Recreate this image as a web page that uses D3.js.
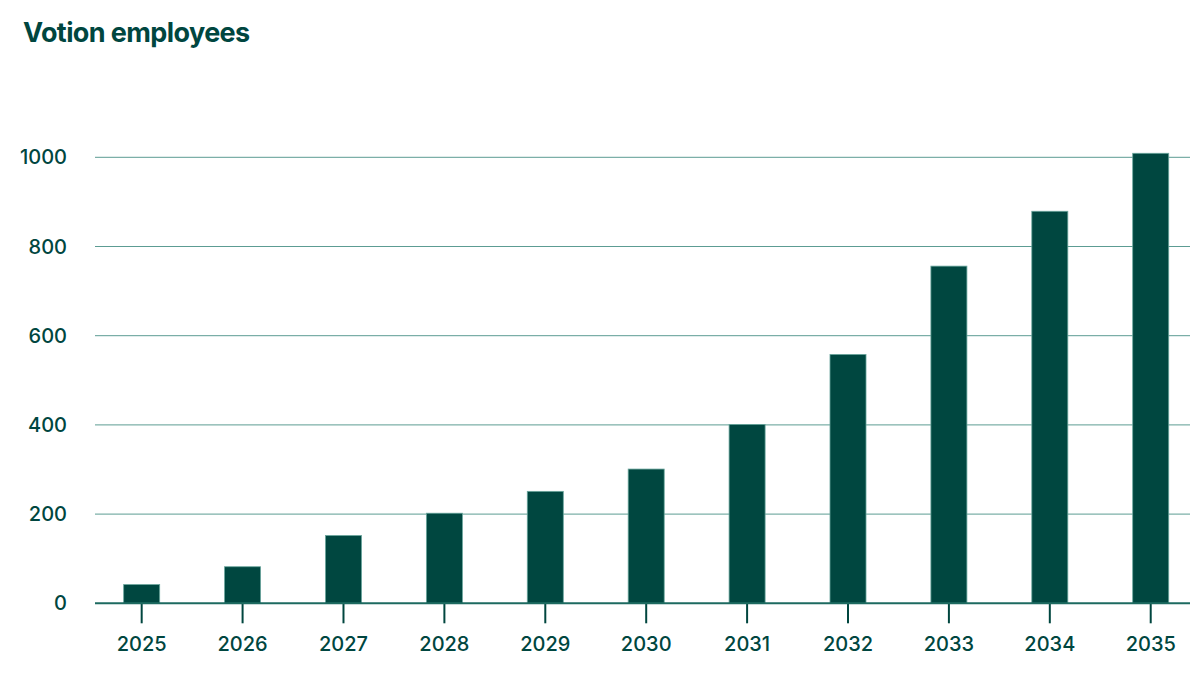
<!DOCTYPE html>
<html>
<head>
<meta charset="utf-8">
<script src="https://cdn.jsdelivr.net/npm/d3@7"></script>
<style>
  html, body { margin: 0; padding: 0; background: #ffffff; }
  svg { display: block; }
</style>
</head>
<body>
<svg id="chart" width="1200" height="697"></svg>
<script>
const title = "Votion employees";
const years = ["2025","2026","2027","2028","2029","2030","2031","2032","2033","2034","2035"];
const employees = [42, 82, 152, 202, 251, 301, 401, 558, 756, 879, 1009];
const yTicks = [0, 200, 400, 600, 800, 1000];

(function () {
const dark = "#00463f";
const gridColor = "#5c9c93";
const font = "Inter, 'Open Sans', sans-serif";

const svg = d3.select("#chart");
const pLeft = 95, pRight = 1190, pTop = 157.3, pBottom = 603.3;

const x = d3.scaleBand().domain(years).range([pLeft, pRight])
  .paddingInner(0.643).paddingOuter(0.2475).align(0.574);
const y = d3.scaleLinear().domain([0, 1000]).range([pBottom, pTop]);

svg.append("text")
  .attr("x", 23).attr("y", 42)
  .attr("font-family", font).attr("font-weight", 700).attr("font-size", 27)
  .attr("letter-spacing", -0.6)
  .attr("fill", dark).text(title);

// grid
svg.append("g").selectAll("line").data(yTicks.filter(d => d > 0)).join("line")
  .attr("x1", pLeft).attr("x2", pRight)
  .attr("y1", d => y(d)).attr("y2", d => y(d))
  .attr("stroke", gridColor).attr("stroke-width", 1);

// y labels
svg.append("g").selectAll("text").data(yTicks).join("text")
  .attr("x", 67).attr("y", d => y(d)).attr("dy", "0.35em")
  .attr("text-anchor", "end")
  .attr("font-family", font).attr("font-size", 20).attr("font-weight", 500)
  .attr("fill", dark).text(d => d);

// bars
svg.append("g").selectAll("rect").data(years).join("rect")
  .attr("x", d => x(d)).attr("width", x.bandwidth())
  .attr("y", (d, i) => y(employees[i]))
  .attr("height", (d, i) => y(0) - y(employees[i]))
  .attr("fill", "#004740").attr("stroke", "#6aa69d").attr("stroke-width", 0.8);

// x axis
const xAxis = d3.axisBottom(x).tickSize(20).tickPadding(14).tickSizeOuter(0);
const gx = svg.append("g").attr("transform", `translate(0,${pBottom})`).call(xAxis);
gx.select(".domain").remove();
gx.selectAll(".tick line").attr("stroke", dark).attr("stroke-width", 2);
gx.selectAll(".tick text").attr("font-family", font).attr("font-size", 20)
  .attr("font-weight", 500).attr("fill", dark);

svg.append("line")
  .attr("x1", pLeft).attr("x2", pRight)
  .attr("y1", y(0)).attr("y2", y(0))
  .attr("stroke", "#1d6a60").attr("stroke-width", 2);
})();
</script>
</body>
</html>
